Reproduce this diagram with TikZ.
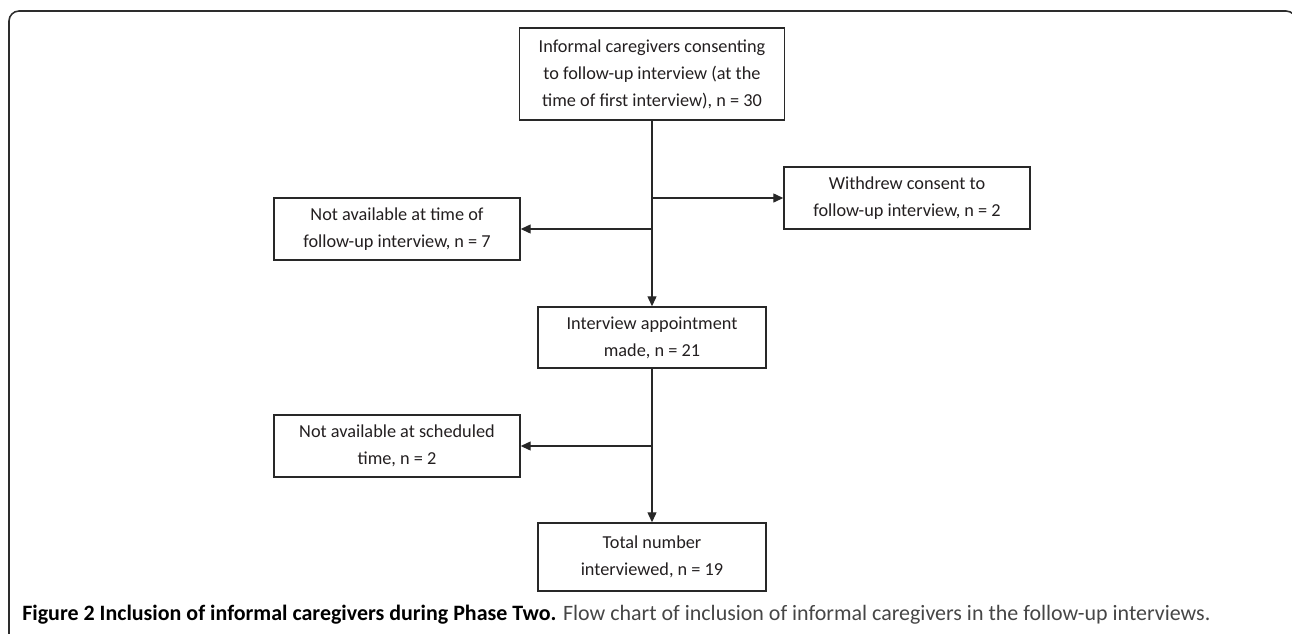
\documentclass[tikz,border=0pt]{standalone}
\usepackage{fontspec}
\setmainfont{Carlito}
\usetikzlibrary{arrows.meta,positioning}
\definecolor{frameline}{RGB}{45,45,45}
\definecolor{boxline}{RGB}{40,40,40}
\definecolor{boxtext}{RGB}{35,31,32}
\definecolor{captext}{RGB}{70,70,70}
\tikzset{
 flowbox/.style={draw=boxline,line width=0.85pt,align=center,inner sep=0pt,
  font=\fontsize{10.4}{15.4}\selectfont,text=boxtext},
 flowarrow/.style={draw=boxline,line width=0.75pt,-{Triangle[length=0.2cm,width=0.18cm]}},
 flowline/.style={draw=boxline,line width=0.75pt}
}
\begin{document}
\begin{tikzpicture}[x=0.02cm,y=-0.02cm,line join=miter]
 \useasboundingbox (0,0) rectangle (1292,633);
 % Rahmen.
 \draw[frameline,line width=0.9pt,rounded corners=0.2cm] (9,640)--(9,11)--(1296,11)--(1296,640);
 % Kasten oben.
 \node[flowbox,minimum width=5.3cm,minimum height=1.84cm] (consent) at (652,74)
  {Informal caregivers consenting\\to follow-up interview (at the\\time of first interview), n = 30};
 \node[flowbox,minimum width=4.92cm,minimum height=1.24cm] (withdrew) at (907,198)
  {Withdrew consent to\\follow-up interview, n = 2};
 \node[flowbox,minimum width=4.92cm,minimum height=1.24cm] (notfollow) at (397,229)
  {Not available at time of\\follow-up interview, n = 7};
 % Termin.
 \node[flowbox,minimum width=4.56cm,minimum height=1.22cm] (appoint) at (652,337.5)
  {Interview appointment\\made, n = 21};
 \node[flowbox,minimum width=4.92cm,minimum height=1.24cm] (notsched) at (397,446)
  {Not available at scheduled\\time, n = 2};
 \node[flowbox,minimum width=4.56cm,minimum height=1.36cm] (total) at (652,557)
  {Total number\\interviewed, n = 19};
 % Pfeile.
 \draw[flowarrow] (consent.south) -- (appoint.north);
 \draw[flowarrow] (consent.south |- withdrew.west) -- (withdrew.west);
 \draw[flowarrow] (consent.south |- notfollow.east) -- (notfollow.east);
 \draw[flowarrow] (appoint.south) -- (total.north);
 \draw[flowarrow] (appoint.south |- notsched.east) -- (notsched.east);
 % Bildunterschrift.
 \node[anchor=base west,inner sep=0pt,font=\fontsize{12.5}{14}\selectfont] (caption) at (22,620)
  {\textbf{Figure 2 Inclusion of informal caregivers during Phase Two.} \textcolor{captext}{Flow chart of inclusion of informal caregivers in the follow-up interviews.}};
\end{tikzpicture}
\end{document}
